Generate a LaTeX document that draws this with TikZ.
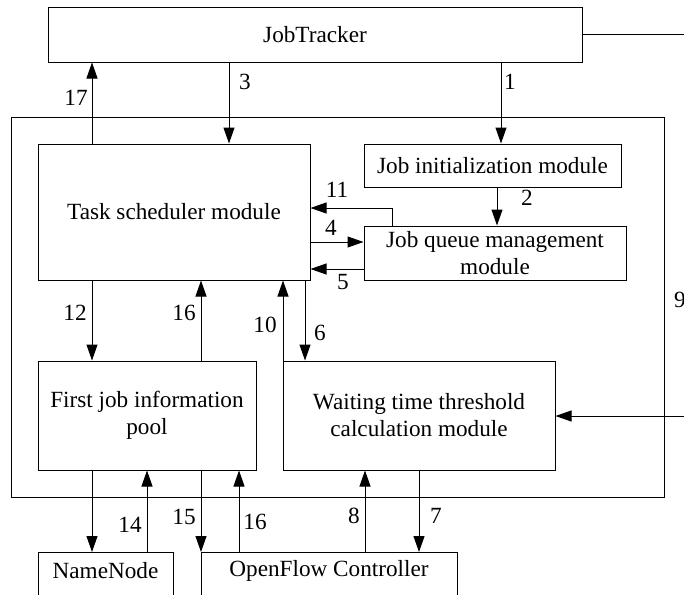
\documentclass[tikz,border=0pt]{standalone}
\usepackage{fontspec}
\setmainfont{Liberation Serif}
\usetikzlibrary{arrows.meta}
\begin{document}
\begin{tikzpicture}[x=1pt,y=-1pt,
  line width=1pt,
  every node/.style={font=\fontsize{23.2}{27}\selectfont},
  box/.style={draw, rectangle, inner sep=0pt, align=center},
  arr/.style={-{Triangle[length=16pt,width=11pt]}},
  num/.style={inner sep=0pt}]
\useasboundingbox (0,0) rectangle (684,594);
% boxes
\node[box, minimum width=534, minimum height=54] (jt) at (315,35) {JobTracker};
\node[box, minimum width=653, minimum height=380] (outer) at (337.5,307) {};
\node[box, minimum width=272, minimum height=136] (ts) at (174,212) {Task scheduler module};
\node[box, minimum width=257, minimum height=43] (ji) at (492.5,165.5) {Job initialization module};
\node[box, minimum width=262, minimum height=54] (jq) at (495,253) {Job queue management\\module};
\node[box, minimum width=218, minimum height=109] (pool) at (147,415.5) {First job information\\pool};
\node[box, minimum width=272, minimum height=109] (wt) at (419,415.5) {Waiting time threshold\\calculation module};
\node[box, minimum width=135, minimum height=80, anchor=north] (nn) at (105.5,552) {};
\node[num] (nnt) at (105.5,571) {NameNode};
\node[box, minimum width=256, minimum height=80, anchor=north] (ofc) at (329,552) {};
\node[num] (ofct) at (329,571) {OpenFlow Controller};
% x positions
\coordinate (x92) at (92,0);
\coordinate (x147) at (147,0);
\coordinate (x201) at (201,0);
\coordinate (x229) at (229,0);
\coordinate (x239) at (239,0);
\coordinate (x283) at (283,0);
\coordinate (x305) at (305,0);
\coordinate (x365) at (365,0);
\coordinate (x392) at (392,0);
\coordinate (x419) at (419,0);
\coordinate (x497) at (497,0);
\coordinate (x501) at (501,0);
\coordinate (y208) at (0,208);
\coordinate (y242) at (0,242);
\coordinate (y269) at (0,269);
\coordinate (r1) at (695,35);
\coordinate (r2) at (695,416);
% connectors
\draw[arr] (ts.north -| x92) -- (jt.south -| x92);
\draw[arr] (jt.south -| x229) -- (ts.north -| x229);
\draw[arr] (jt.south -| x501) -- (ji.north -| x501);
\draw[arr] (ji.south -| x497) -- (jq.north -| x497);
\draw[arr] (jq.north -| x392) -- (x392 |- y208) -- (ts.east |- y208);
\draw[arr] (ts.east |- y242) -- (jq.west |- y242);
\draw[arr] (jq.west |- y269) -- (ts.east |- y269);
\draw[arr] (jt.east) -- (r1) -- (r2) -- (wt.east |- r2);
\draw[arr] (ts.south -| x92) -- (pool.north -| x92);
\draw[arr] (pool.north -| x201) -- (ts.south -| x201);
\draw[arr] (wt.north -| x283) -- (ts.south -| x283);
\draw[arr] (ts.south -| x305) -- (wt.north -| x305);
\draw[arr] (pool.south -| x92) -- (nn.north -| x92);
\draw[arr] (nn.north -| x147) -- (pool.south -| x147);
\draw[arr] (pool.south -| x201) -- (ofc.north -| x201);
\draw[arr] (ofc.north -| x239) -- (pool.south -| x239);
\draw[arr] (ofc.north -| x365) -- (wt.south -| x365);
\draw[arr] (wt.south -| x419) -- (ofc.north -| x419);
% labels
\node[num] (l17) at (76,98) {17};
\node[num] (l3) at (245,82) {3};
\node[num] (l1) at (510,82) {1};
\node[num] (l2) at (527,198) {2};
\node[num] (l11) at (337,190) {11};
\node[num] (l4) at (331,228) {4};
\node[num] (l5) at (343,282) {5};
\node[num] (l9) at (680,300) {9};
\node[num] (l12) at (75,313) {12};
\node[num] (l16a) at (184,313) {16};
\node[num] (l10) at (265,325) {10};
\node[num] (l6) at (320,333) {6};
\node[num] (l14) at (130,525) {14};
\node[num] (l15) at (184,517) {15};
\node[num] (l16b) at (255,522) {16};
\node[num] (l8) at (354,516) {8};
\node[num] (l7) at (436,516) {7};
\end{tikzpicture}
\end{document}
